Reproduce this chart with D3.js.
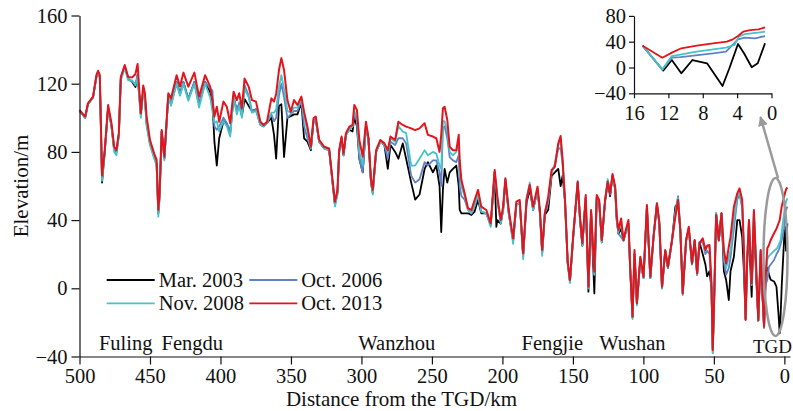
<!DOCTYPE html>
<html><head><meta charset="utf-8">
<script src="https://cdn.jsdelivr.net/npm/d3@7"></script>
<style>
html,body{margin:0;padding:0;background:#fff;}
svg text{font-family:"Liberation Serif","Times New Roman",serif;fill:#111;}
</style></head>
<body><svg id="c" width="793" height="411"></svg>
<script>
// ---------- DATA (main profile) ----------
const distKm = [500,496,494,490.4,488,486.8,485.6,484,482.1,479.7,477.3,475.4,473.8,472.1,470.7,467.9,465.5,462.6,460.3,458.8,456.5,454.8,453.6,452.4,450,447,445.3,444.1,443.2,441.7,439.8,437,435.1,431.1,428.7,426.3,422.8,418.5,415.2,410.9,407.3,405.7,404.3,402.6,400.9,397.9,395.5,393.1,390.7,388.4,386.7,384.8,382.9,380,377.7,374.8,371.7,369.4,367,363.9,362,360.5,358.5,356.8,354.9,352.5,350.2,347.8,345.4,342.6,340.7,338.3,335.9,334,332.4,330,326.4,322.9,320.5,318.8,317,315.8,314.1,312.7,311,308.6,306.3,305.1,303.2,301.5,299.1,296.8,295.1,293.2,292,289.6,286.6,283.7,281.3,279.4,276.1,273.8,270.7,268.3,264.7,261.9,258.8,255.2,252.9,249.3,246.9,244.6,243.4,242.2,241,239.1,237.4,235.1,232.7,231,230.3,229.1,226.8,224.4,222,219.7,217.3,215,211.4,208.3,205.5,204.3,203.6,201.2,199.5,197.9,195.5,192.4,190.1,187.7,185.3,182.9,180.6,178.2,175.1,173.4,171.8,169.9,167.5,165.1,162.8,160.4,158.7,157.3,155.6,153.7,152.1,149.7,146.6,145,143.3,140.9,139,137.1,134.8,133.1,131.4,129.5,127.2,125.3,123.6,121.9,120,118.9,117.7,115.8,114.1,112.5,110.6,109.4,107.7,106.3,104.6,102.2,99.9,97.5,95.1,92.8,90.4,88.7,86.8,84.5,82.6,79.7,77.3,75.4,73.8,72.1,69.7,67.8,65.5,63.6,61.9,60.2,57.9,56,54.8,53.1,51.7,50.8,49.8,48.4,46.5,44.6,42.9,41.3,39.4,38.2,35.8,33.4,31.8,29.9,28.7,27.5,26.3,25.1,23.2,21.6,19.9,18.5,16.8,15.6,14.4,13.3,12.1,10.9,9.7,7.3,5.6,4.2,3.3,2.6,1.9,0.2,-0.5,-1.2,-2.1];

const oct2013 = [104.6,100.7,108.5,112.4,125,127.6,125,66,81,107.5,96.8,83,81,91,124,131,124,123.7,125.7,131.6,102.6,119,114.4,100.7,87,79,75.3,46,55.7,92.8,77.2,114.4,111.4,125,118.3,126.5,118.3,126.5,112.4,125,118.3,110.4,100.7,106.5,97.7,109.5,106.5,96.8,115.3,110.4,114.4,105.6,123,118.3,110.4,109.5,97.7,95.8,97.7,111.4,109.5,114,128,135,128,110.4,103.6,110.4,107.5,112.4,103.6,94.8,83,99.7,100.7,87,83,82,63.5,50.8,57.7,81,89,79,91,94.8,95.8,107.5,104.6,87,77.2,97.7,89,63.5,57.7,81,87,85,81,89,87,97.7,95.8,94.8,93.8,92.8,93.8,96.8,90,89,88,80,90,105.6,106.5,98.7,83,81,81,90,75,63.5,55.7,47,45.9,51.8,57.7,47.9,45.9,38.1,69.4,60,53.7,40.1,47.9,64.5,45.9,29.3,50.8,51.8,20.5,51.8,60.6,47.9,59.6,45.9,22.5,43.9,53.7,69.4,71.3,85,89.3,75.3,51.8,15.6,4.9,32.2,62.5,42,26.4,54.7,0.9,45.9,9.8,54.7,51.8,28.3,51.8,62.5,55.7,67,59.6,42,34.2,41,28.3,34.2,40.1,12.7,-16.6,22.5,-8.8,18.5,6.8,48.8,6.8,30.3,49.8,39.1,0.9,22.5,12.7,28.3,42,51.8,34.2,-3,28.3,36.1,14.6,28.3,8.8,26.4,29.3,22.5,25,25.4,2.9,-36.2,-6.9,43,28.3,44,22.5,14.6,24.4,30,47.9,55.7,58.6,51.8,22.5,-18.6,18.5,40.1,2.9,45.9,10.7,-18.6,22.5,-1,-22.5,6.8,23.5,25.4,28.3,32.3,35,38,40,44,47.9,53.7,56,58,59.2];

const nov2008 = [104,100,108,112,124,127,124,63,80,106,95,80,78,89,122,129,122,122,119,124,100,115,110,95,84,76,72,42,52,92,75,113,107,120,113,120,110,120,106,120,112,104,97,98,92,98,95,89,112,102,107,100,117,112,103,104,96,95,97,103,103,105,118,125,117,104,103,106,106,111,101,92,82,98,99,86,82,81,62,48,55,80,88,78,90,93,95,104,100,80,72,96,88,62,55,80,86,84,80,88,86,95,92,91,72,72,76,81,78,80,79,72,70,98,98,92,80,78,80,84,70,60,54,46,44,49,55,45,44,36,68,58,52,38,46,64,44,26,49,50,17,53,62,46,58,44,19,45,52,68,73,84,86,74,51,14,3,31,63,41,25,53,0,45,8,53,51,27,51,64,56,66,58,41,33,38,28,33,38,12,-18,20,-10,18,6,48,6,30,50,38,0,22,12,28,44,53,34,-4,28,35,14,28,8,27,28,22,25,24,2,-38,-7,44,28,44,20,12,18,22,40,54,56,49,22,-18,18,40,2,45,10,-19,22,-2,-23,4,17,19,20,22,23,25,27,28.3,33,43.9,48,51,52.7];

const oct2006 = [104,100,108,112,124,127,124,64,80,106,95,82,80,90,123,130,123,121,120,125,102,117,112,97,85,77,73,44,54,92,76,113,108,121,114,121,111,121,108,121,117,116,95,93,95,100,97,92,113,104,109,102,119,113,104,105,96,95,97,102,98,100,113,120,112,100,102,104,104,110,95,88,82,98,99,86,82,81,62,49,56,80,88,78,90,93,95,103,98,76,68,95,88,62,56,80,86,84,76,86,84,88,88,85,66,62,64,74,72,75,75,68,60,94,95,88,77,75,74,78,60,54,52,46,44,48,55,45,44,37,68,58,52,39,46,64,44,28,49,50,19,52,60,46,58,44,21,44,50,68,72,82,82,73,51,15,4,31,62,41,25,53,0,45,8,53,51,27,51,63,55,66,58,40,32,30,28,33,36,12,-17,20,-9,16,6,48,6,30,50,38,0,22,12,28,45,54,34,-3,28,35,14,28,8,27,27,20,22,20,0,-38,-7,44,28,44,16,8,12,18,35,52,55,47,22,-18,18,40,2,45,10,-19,22,-2,-23,2,5,12.7,14,16.6,20,22,24,26,28.3,35,43.9,46,47.9];

const mar2003 = [104,100,108,112,124,127,124,62,80,106,95,81,80,90,123,130,123,121,118,125,102,116,112,97,85,77,73,44,54,92,76,113,108,121,114,121,111,121,108,121,115,110,86,72,88,98,96,91,112,104,108,101,111,107,104,105,96,95,97,100,90,76,107,108,77,100,101,102,102,109,88,86,81,98,99,86,82,81,62,49,56,80,88,78,90,93,92,100,95,76,68,95,88,62,56,80,86,84,70,84,80,76,85,76,62,52,55,70,74,68,72,60,33,58,70,62,68,70,72,60,46,44,44,44,43,45,52,44,44,37,68,36,40,38,46,63,44,28,49,50,19,50,58,46,58,44,21,43,46,66,68,70,60,66,51,15,4,31,62,41,25,53,-2,45,-3,53,51,27,51,62,54,66,58,40,32,35,28,33,38,12,-17,20,-9,17,6,47,6,30,49,38,0,22,12,28,48,50,34,-3,28,35,14,28,8,27,20,14,7,10,0,-36,-7,44,28,44,10,4.9,-6.9,10,18.5,40,40,30,10,-18,18,30,-5,40,5,-19,20,-3,-23,10,12,8,5,4,1,-14.6,-26.4,-14.6,1,28.3,36,22,38];

// ---------- DATA (inset, 0-16 km) ----------
const insetMar2003 = [[15,33.8],[12.6,-4.9],[11.6,11.6],[10.5,-9],[9.2,11.6],[7.5,6.5],[5.7,-28.7],[4.9,-1.2],[3.9,36.4],[3.2,22],[2.3,0.3],[1.6,6.5],[0.75,37.5]];
const insetOct2006 = [[15,33.8],[12.7,-3.5],[11.6,15.2],[10.6,16],[6.8,22],[5.3,24.5],[3.9,43.7],[3.1,46.2],[1.9,45],[0.75,48.8]];
const insetNov2008 = [[15,33.8],[12.7,-2.8],[11.6,17.8],[8.7,24.5],[5.3,30.7],[4.3,34.9],[3.8,47.8],[3.1,51.9],[0.75,55.5]];
const insetOct2013 = [[15,33.8],[12.7,15.2],[11.6,23],[10.5,29.8],[8.7,33.8],[6.8,37.5],[5.2,40],[4.5,43.7],[3.9,48.8],[3.3,55.5],[2.5,58.1],[1.5,59.2],[0.75,62.3]];

const seriesNames = ["Mar. 2003","Oct. 2006","Nov. 2008","Oct. 2013"];
const seriesColors = ["#000000","#5f82c4","#45c3c8","#e3141c"];
const yTicks = [-40,0,40,80,120,160];
const xTicks = [500,450,400,350,300,250,200,150,100,50,0];
const insetYTicks = [-40,0,40,80];
const insetXTicks = [16,12,8,4,0];
const places = [["Fuling",486.2],["Fengdu",441.8],["Wanzhou",302.2],["Fengjie",186.4],["Wushan",131.3]];

// ---------- DRAW ----------
const svg = d3.select("#c");
const FS = 20.5;
const x = d3.scaleLinear().domain([500,-4]).range([79.5,790]);
const y = d3.scaleLinear().domain([-40,160]).range([356.5,15.5]);

const mainSeries = [mar2003, oct2006, nov2008, oct2013];
const line = d3.line().x(d => x(d[0])).y(d => y(d[1]));
mainSeries.forEach((vals,i) => {
  svg.append("path")
    .attr("d", line(distKm.map((d,k) => [d, vals[k]])))
    .attr("fill","none").attr("stroke",seriesColors[i])
    .attr("stroke-width", i===3 ? 2 : 1.8).attr("stroke-linejoin","round");
});

// axes
const gy = svg.append("g").attr("transform","translate(79.5,0)")
  .call(d3.axisLeft(y).tickValues(yTicks).tickSize(8).tickSizeOuter(0).tickPadding(4));
const gx = svg.append("g").attr("transform","translate(0,356.5)")
  .call(d3.axisBottom(x).tickValues(xTicks).tickSize(8).tickSizeOuter(0).tickPadding(3.5));
[gx,gy].forEach(g => {
  g.selectAll("text").style("font-size",FS+"px").style("font-family","Liberation Serif").attr("fill","#111");
  g.selectAll("line,path").attr("stroke","#111").attr("stroke-width",1.2);
});

svg.append("text").attr("x",401.5).attr("y",406).attr("text-anchor","middle")
  .style("font-size","21px").text("Distance from the TGD/km");
svg.append("text").attr("transform","translate(28,186) rotate(-90)").attr("text-anchor","middle")
  .style("font-size","21px").text("Elevation/m");

// place names
places.forEach(p => {
  svg.append("text").attr("x", x(p[1])).attr("y", 349.5)
    .style("font-size",FS+"px").text(p[0]);
});
svg.append("text").attr("x", 792).attr("y", 352.5).attr("text-anchor","end")
  .style("font-size","19px").text("TGD");

// legend
const legPos = [[106.7,280],[249.3,280],[106.7,303.3],[249.3,303.3]];
seriesNames.forEach((n,i) => {
  const [lx,ly] = legPos[i];
  svg.append("line").attr("x1",lx).attr("x2",lx+48).attr("y1",ly).attr("y2",ly)
    .attr("stroke",seriesColors[i]).attr("stroke-width",1.8);
  svg.append("text").attr("x",lx+52).attr("y",ly+7).style("font-size",FS+"px").text(n);
});

// ellipse + arrow
svg.append("ellipse").attr("cx",775.5).attr("cy",257).attr("rx",12).attr("ry",79)
  .attr("fill","none").attr("stroke","#9a9a9a").attr("stroke-width",2.5);
svg.append("defs").append("marker").attr("id","ah").attr("viewBox","0 0 10 10")
  .attr("refX",9).attr("refY",5).attr("markerWidth",4).attr("markerHeight",4)
  .attr("orient","auto").append("path").attr("d","M0,0L10,5L0,10z").attr("fill","#9a9a9a");
svg.append("line").attr("x1",778).attr("y1",178).attr("x2",760.5).attr("y2",117)
  .attr("stroke","#9a9a9a").attr("stroke-width",2.5).attr("marker-end","url(#ah)");

// inset
const xi = d3.scaleLinear().domain([16,0]).range([634,771.5]);
const yi = d3.scaleLinear().domain([-40,80]).range([93.3,15.9]);
const li = d3.line().x(d => xi(d[0])).y(d => yi(d[1]));
[insetMar2003, insetOct2006, insetNov2008, insetOct2013].forEach((s,i) => {
  svg.append("path").attr("d", li(s)).attr("fill","none")
    .attr("stroke",seriesColors[i]).attr("stroke-width",1.8).attr("stroke-linejoin","round");
});
const giy = svg.append("g").attr("transform","translate(634,0)")
  .call(d3.axisLeft(yi).tickValues(insetYTicks).tickSize(5).tickSizeOuter(0).tickPadding(3));
const gix = svg.append("g").attr("transform","translate(0,93.3)")
  .call(d3.axisBottom(xi).tickValues(insetXTicks).tickSize(5).tickSizeOuter(0).tickPadding(7));
[giy,gix].forEach(g => {
  g.selectAll("text").style("font-size",FS+"px").style("font-family","Liberation Serif").attr("fill","#111");
  g.selectAll("line,path").attr("stroke","#111").attr("stroke-width",1.2);
});
</script></body></html>
